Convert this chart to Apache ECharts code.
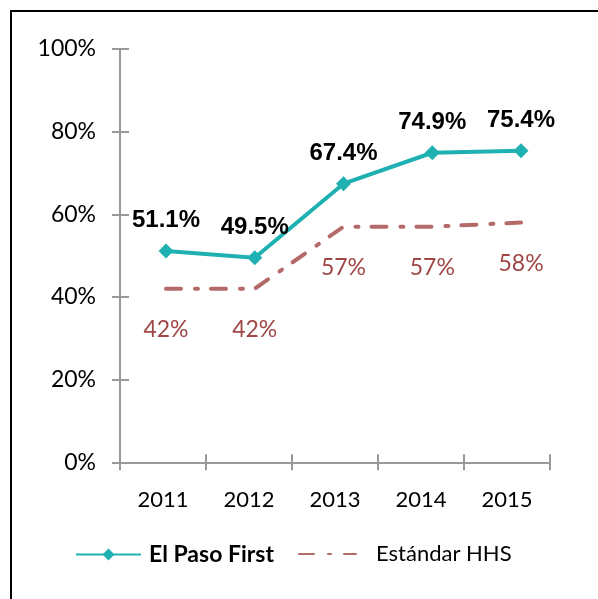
<!DOCTYPE html>
<html><head><meta charset="utf-8">
<script src="https://cdn.jsdelivr.net/npm/echarts@6/dist/echarts.min.js"></script>
<style>html,body{margin:0;padding:0;background:#fff}#c{width:598px;height:599px}</style>
</head><body><div id="c"></div>
<script>
const years = ['2011','2012','2013','2014','2015'];
const elPaso = [51.1, 49.5, 67.4, 74.9, 75.4];
const hhs = [42, 42, 57, 57, 58];
const yTicks = [0, 20, 40, 60, 80, 100];

const teal = '#1fb1b1';
const rose = '#b56a6a';
const roseText = '#a04646';
const axisGray = '#9a9a9a';

const chart = echarts.init(document.getElementById('c'), null, {renderer:'canvas'});
const gA = {left:120, top:49, width:430, height:413.3};
const gB = {left:121.6, top:49, width:443.8, height:413.3};
chart.setOption({
  animation:false,
  backgroundColor:'#fff',
  graphic:[{type:'rect', shape:{x:11,y:11,width:800,height:800}, style:{fill:'none', stroke:'#000', lineWidth:2}, silent:true}],
  grid:[gA, gB],
  xAxis:[
    {type:'category', gridIndex:0, data:years, boundaryGap:true,
     axisLine:{lineStyle:{color:axisGray, width:2}},
     axisTick:{show:true, length:8, lineStyle:{color:axisGray, width:2}},
     axisLabel:{margin:27, color:'#000', fontFamily:'Lato', fontSize:22}},
    {type:'category', gridIndex:0, data:years, boundaryGap:true, position:'bottom',
     axisLine:{show:false},
     axisTick:{show:true, inside:true, length:8, lineStyle:{color:axisGray, width:2}},
     axisLabel:{show:false}},
    {type:'category', gridIndex:1, data:years, boundaryGap:true, show:false}
  ],
  yAxis:[
    {type:'value', gridIndex:0, min:0, max:100, interval:20,
     splitLine:{show:false},
     axisLine:{show:true, lineStyle:{color:axisGray, width:2}},
     axisTick:{show:true, length:8, lineStyle:{color:axisGray, width:2}},
     axisLabel:{margin:24, color:'#000', fontFamily:'Lato', fontSize:23, formatter:'{value}%'}},
    {type:'value', gridIndex:0, min:0, max:100, interval:20, position:'left',
     splitLine:{show:false}, axisLine:{show:false},
     axisTick:{show:true, inside:true, length:9, lineStyle:{color:axisGray, width:2}},
     axisLabel:{show:false}},
    {type:'value', gridIndex:1, min:0, max:100, show:false, splitLine:{show:false}}
  ],
  legend:[
    {data:['El Paso First'], left:75, top:543, padding:0, itemWidth:65, itemHeight:15, itemGap:0,
     textStyle:{fontFamily:'Lato', fontWeight:'bold', fontSize:23, color:'#000', padding:[0,0,0,3]}},
    {data:['Estándar HHS'], left:298, top:543, padding:0, itemWidth:57, itemHeight:15, itemGap:0,
     textStyle:{fontFamily:'Lato', fontSize:22, color:'#000', padding:[0,0,0,15]}}
  ],
  series:[
    {name:'Estándar HHS', type:'line', xAxisIndex:2, yAxisIndex:2, data:hhs,
     symbol:'circle', symbolSize:1, itemStyle:{color:'rgba(0,0,0,0)'},
     lineStyle:{color:rose, width:4, type:[15,14,3,13], cap:'round'},
     label:{show:true, position:'bottom', distance:29, formatter:'{c}%', color:roseText, fontFamily:'Lato', fontSize:23},
     z:2},
    {name:'El Paso First', type:'line', xAxisIndex:2, yAxisIndex:2, data:elPaso,
     symbol:'diamond', symbolSize:15, itemStyle:{color:teal},
     lineStyle:{color:teal, width:4},
     label:{show:true, position:'top', distance:11, formatter:'{c}%', color:'#000', fontFamily:'Liberation Sans', fontWeight:'bold', fontSize:24},
     z:3}
  ]
});
</script></body></html>
